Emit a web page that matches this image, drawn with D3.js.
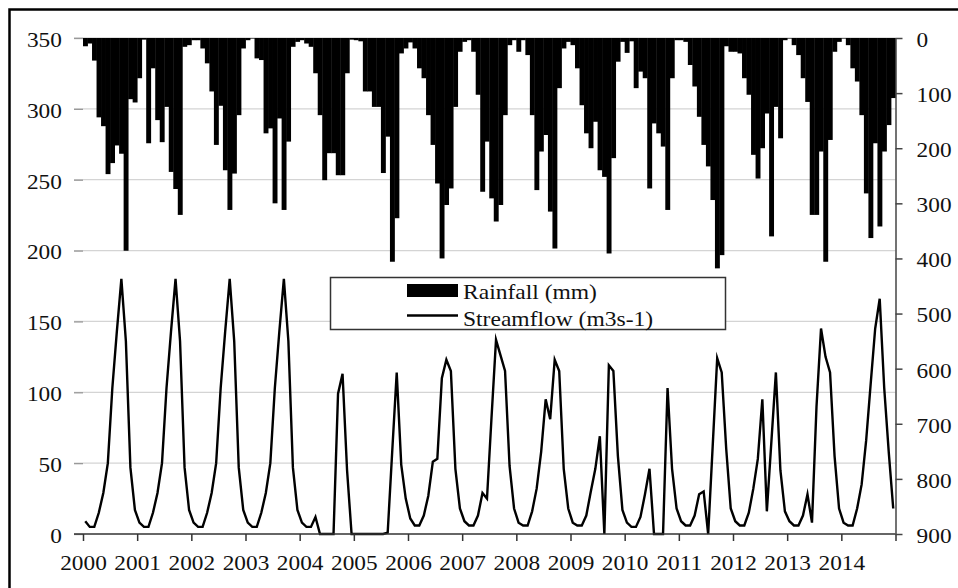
<!DOCTYPE html>
<html>
<head>
<meta charset="utf-8">
<script src="https://cdn.jsdelivr.net/npm/d3@7"></script>
<style>
  html, body { margin: 0; padding: 0; background: #fff; }
  svg { display: block; font-family: "Liberation Serif", "Times New Roman", serif; }
</style>
</head>
<body>
<svg id="chart" width="958" height="588"></svg>
<script>
// year labels on the x axis
var years = [2000, 2001, 2002, 2003, 2004, 2005, 2006, 2007, 2008, 2009, 2010, 2011, 2012, 2013, 2014];

// monthly rainfall (mm), Jan 2000 .. Dec 2014, one row per year
var rainfall = [
  15, 10, 41, 144, 160, 247, 227, 195, 210, 386, 111, 117,
  73, 3, 191, 55, 149, 189, 125, 243, 274, 321, 16, 13,
  4, 4, 19, 46, 97, 194, 123, 240, 312, 246, 140, 19,
  4, 1, 37, 40, 173, 164, 300, 146, 312, 188, 16, 7,
  4, 10, 16, 64, 140, 258, 209, 209, 249, 249, 64, 3,
  4, 6, 97, 97, 125, 125, 245, 179, 406, 327, 28, 19,
  8, 19, 55, 73, 140, 194, 264, 400, 303, 273, 125, 25,
  7, 4, 25, 103, 279, 188, 291, 333, 303, 140, 13, 4,
  25, 4, 31, 140, 276, 206, 176, 315, 382, 91, 19, 7,
  13, 55, 122, 173, 200, 152, 240, 252, 391, 218, 43, 7,
  27, 6, 91, 61, 73, 273, 155, 173, 197, 312, 73, 4,
  4, 7, 49, 88, 143, 194, 233, 294, 418, 394, 15, 25,
  25, 28, 73, 103, 212, 255, 200, 137, 360, 125, 182, 4,
  1, 13, 31, 73, 116, 321, 321, 206, 406, 185, 25, 7,
  1, 13, 55, 79, 140, 282, 363, 191, 342, 206, 158, 109
];

// monthly streamflow (m3/s), same months
var streamflow = [
  9, 5, 5, 15, 29, 50, 103, 143, 180, 136, 47, 17,
  8, 5, 5, 15, 29, 50, 103, 143, 180, 136, 47, 17,
  8, 5, 5, 15, 29, 50, 103, 143, 180, 136, 47, 17,
  8, 5, 5, 15, 29, 50, 103, 143, 180, 136, 47, 17,
  8, 5, 5, 12, 0, 0, 0, 0, 99, 113, 45, 0,
  0, 0, 0, 0, 0, 0, 0, 1, 58, 114, 49, 25,
  11, 6, 6, 13, 27, 51, 53, 110, 123, 115, 46, 18,
  9, 6, 6, 13, 29, 25, 82, 137, 126, 115, 48, 18,
  8, 6, 6, 16, 32, 58, 95, 81, 123, 115, 46, 18,
  8, 6, 6, 13, 30, 46, 69, 0, 119, 115, 55, 17,
  8, 5, 5, 12, 28, 46, 0, 0, 0, 103, 46, 18,
  9, 6, 6, 13, 28, 30, 0, 62, 124, 114, 60, 18,
  9, 6, 6, 15, 32, 53, 95, 16, 65, 114, 45, 16,
  9, 6, 6, 13, 28, 8, 90, 145, 125, 114, 55, 18,
  8, 6, 6, 18, 35, 66, 106, 145, 166, 103, 58, 18
];

var flowTicks = [0, 50, 100, 150, 200, 250, 300, 350];
var rainTicks = [0, 100, 200, 300, 400, 500, 600, 700, 800, 900];

var svg = d3.select("#chart"),
  plotL = 83, plotR = 895.5, plotT = 38, plotB = 534,
  textScale = "scale(1.11,1)";

var xBand = d3.scaleBand().domain(d3.range(rainfall.length)).range([plotL, plotR]).padding(0);
var xYear = d3.scaleLinear().domain([years[0], years[years.length - 1] + 1]).range([plotL, plotR]);
var yFlow = d3.scaleLinear().domain([0, 350]).range([plotB, plotT]);
var yRain = d3.scaleLinear().domain([0, 900]).range([plotT, plotB]);
var bw = xBand.bandwidth();

// outer frame (cut off at right and bottom)
svg.append("path")
  .attr("d", "M9.5,588V9.5H958")
  .attr("fill", "none")
  .attr("stroke", "#000")
  .attr("stroke-width", 2.5);

// horizontal gridlines
svg.append("g").selectAll("line")
  .data(flowTicks.filter(function (d) { return d > 0; }))
  .enter().append("line")
  .attr("x1", plotL - 9).attr("x2", plotR)
  .attr("y1", function (d) { return yFlow(d); })
  .attr("y2", function (d) { return yFlow(d); })
  .attr("stroke", "#d4d4d4")
  .attr("stroke-width", 1.3);

// rainfall bars hanging from the top
svg.append("g").selectAll("rect")
  .data(rainfall)
  .enter().append("rect")
  .attr("x", function (d, i) { return xBand(i); })
  .attr("y", plotT)
  .attr("width", bw + 0.4)
  .attr("height", function (d) { return yRain(d) - plotT; })
  .attr("fill", "#000");

// streamflow line
var line = d3.line()
  .x(function (d, i) { return xBand(i) + bw / 2; })
  .y(function (d) { return yFlow(d); });

svg.append("path")
  .datum(streamflow)
  .attr("d", line)
  .attr("fill", "none")
  .attr("stroke", "#000")
  .attr("stroke-width", 2.4)
  .attr("stroke-linejoin", "miter")
  .attr("stroke-miterlimit", 6);

// left axis
var gLeft = svg.append("g")
  .attr("transform", "translate(" + plotL + ",0)")
  .call(d3.axisLeft(yFlow).tickValues(flowTicks).tickSize(9).tickPadding(10));
gLeft.select(".domain").remove();
gLeft.selectAll(".tick line").attr("stroke", "#999").attr("stroke-width", 1.3);

// bottom axis
var gBottom = svg.append("g")
  .attr("transform", "translate(0," + plotB + ")")
  .call(d3.axisBottom(xYear)
    .tickValues(d3.range(years[0], years[years.length - 1] + 2))
    .tickFormat(function (d) { return years.indexOf(d) >= 0 ? d : ""; })
    .tickSize(7).tickPadding(14));
gBottom.select(".domain").remove();
gBottom.selectAll(".tick line").attr("stroke", "#333").attr("stroke-width", 1.5);
gBottom.append("line")
  .attr("x1", plotL - 9).attr("x2", plotR)
  .attr("stroke", "#333").attr("stroke-width", 1.6);

// right axis (rainfall, reversed)
var gRight = svg.append("g")
  .attr("transform", "translate(" + plotR + ",0)")
  .call(d3.axisRight(yRain).tickValues(rainTicks).tickSize(7).tickSizeOuter(0).tickPadding(12));
gRight.select(".domain").attr("stroke", "#444").attr("stroke-width", 1.5);
gRight.selectAll(".tick line").attr("stroke", "#444").attr("stroke-width", 1.5);

svg.selectAll(".tick text")
  .attr("font-size", 21)
  .attr("font-family", "Liberation Serif, Times New Roman, serif")
  .attr("fill", "#111")
  .attr("transform", textScale);
gLeft.selectAll(".tick text").attr("dy", "0.4em");
gRight.selectAll(".tick text").attr("dy", "0.4em");

// legend
var legend = svg.append("g");
legend.append("rect")
  .attr("x", 330.5).attr("y", 277.5)
  .attr("width", 395).attr("height", 52)
  .attr("fill", "#fff")
  .attr("stroke", "#333")
  .attr("stroke-width", 1.5);
legend.append("rect")
  .attr("x", 407).attr("y", 284)
  .attr("width", 51).attr("height", 13)
  .attr("fill", "#000");
legend.append("line")
  .attr("x1", 407).attr("x2", 458)
  .attr("y1", 315.5).attr("y2", 315.5)
  .attr("stroke", "#000").attr("stroke-width", 2.4);
legend.selectAll("text.lab")
  .data(["Rainfall (mm)", "Streamflow (m3s-1)"])
  .enter().append("text")
  .attr("class", "lab")
  .attr("transform", function (d, i) { return "translate(463," + (299 + i * 26.5) + ") scale(1.07,1)"; })
  .attr("font-size", 22)
  .attr("fill", "#111")
  .text(function (d) { return d; });
</script>
</body>
</html>
